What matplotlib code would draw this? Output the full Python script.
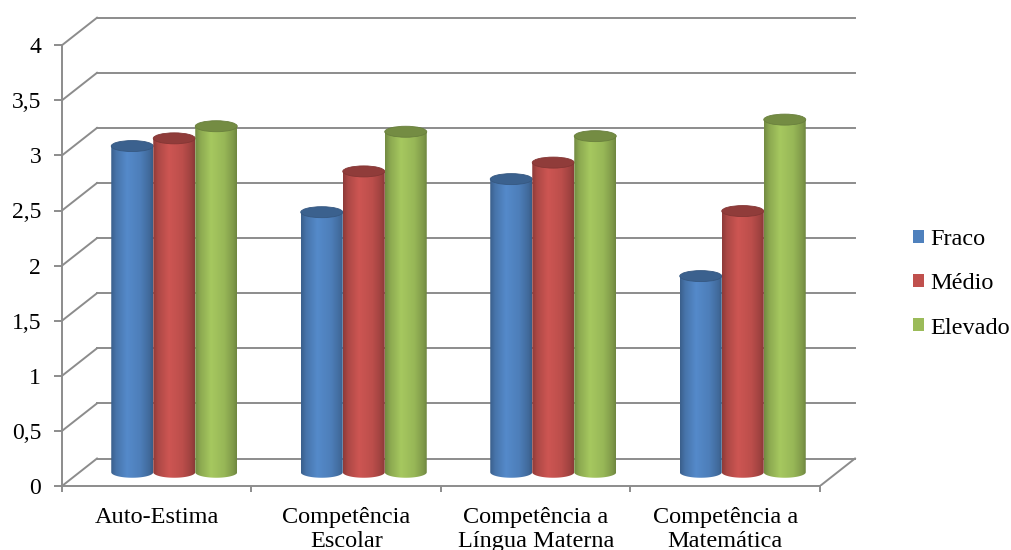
import numpy as np
import matplotlib
matplotlib.use("Agg")
import matplotlib.pyplot as plt
from matplotlib.patches import Polygon, Ellipse, Patch

plt.rcParams['font.family'] = ['Liberation Serif', 'DejaVu Serif']

# Dados
categorias = ["Auto-Estima", "Competência\nEscolar",
              "Competência a\nLíngua Materna", "Competência a\nMatemática"]
series = ["Fraco", "Médio", "Elevado"]
fraco = [2.96, 2.36, 2.66, 1.78]
medio = [3.03, 2.73, 2.81, 2.37]
elevado = [3.14, 3.09, 3.05, 3.20]
y_ticks = [0, 0.5, 1, 1.5, 2, 2.5, 3, 3.5, 4]
y_labels = ["0", "0,5", "1", "1,5", "2", "2,5", "3", "3,5", "4"]

cores = ["#4F81BD", "#C0504D", "#9BBB59"]
grid_cor = "#8C8C8C"

# Geometria do "3D" (pixels -> unidades de dados)
PX_X = 189.5   # px por categoria
PX_Y = 110.2   # px por unidade
DX = 35 / PX_X
DY = 27.5 / PX_Y
EH = 11 / PX_Y      # altura da elipse do topo
LARG = 42 / PX_X    # largura de cada cilindro

fig = plt.figure(figsize=(10.12, 5.5), dpi=100)
ax = fig.add_axes([62 / 1012, 64 / 550, 808 / 1012, 481 / 550])
xmax = 808 / PX_X
ymax = 481 / PX_Y

# Parede de fundo e parede lateral
for v in y_ticks:
    ax.plot([DX, len(categorias) + DX], [v + DY, v + DY], color=grid_cor, lw=1.4, zorder=1)
    ax.plot([0, DX], [v, v + DY], color=grid_cor, lw=1.4, zorder=1)
# Chão: aresta direita
ax.plot([len(categorias), len(categorias) + DX], [0, DY], color=grid_cor, lw=1.4, zorder=1)


def cor_gradiente(hexcor):
    base = np.array(matplotlib.colors.to_rgb(hexcor))
    t = np.linspace(0, 1, 80)
    f = np.interp(t, [0, 0.12, 0.38, 0.7, 0.92, 1], [0.74, 0.9, 1.07, 0.98, 0.82, 0.72])
    img = np.clip(base[None, :] * f[:, None], 0, 1)
    return img[None, :, :]


def cilindro(xc, h, base, cor, z):
    x0, x1 = xc - LARG / 2, xc + LARG / 2
    y1 = base + h
    t = np.linspace(np.pi, 2 * np.pi, 50)
    bx = xc + LARG / 2 * np.cos(t)
    by = base + EH / 2 * np.sin(t)
    verts = [(x0, y1)] + list(zip(bx, by)) + [(x1, y1)]
    corpo = Polygon(verts, closed=True, facecolor='none', edgecolor='none', zorder=z)
    ax.add_patch(corpo)
    im = ax.imshow(cor_gradiente(cor), extent=[x0, x1, base - EH / 2, y1],
                   aspect='auto', interpolation='bilinear', zorder=z)
    im.set_clip_path(corpo)
    escuro = np.array(matplotlib.colors.to_rgb(cor)) * 0.75
    topo = Ellipse((xc, y1), LARG, EH, facecolor=escuro,
                   edgecolor=np.array(matplotlib.colors.to_rgb(cor)) * 0.68, lw=0.6, zorder=z + 0.1)
    ax.add_patch(topo)


valores = [fraco, medio, elevado]
for i in range(len(categorias)):
    centro = i + 0.5 + DX / 2
    for j, vals in enumerate(valores):
        xc = centro + (j - 1) * LARG
        cilindro(xc, vals[i], DY / 2, cores[j], 3 + j)

ax.set_xlim(0, xmax)
ax.set_ylim(0, ymax)

# Eixos
for s in ['top', 'right']:
    ax.spines[s].set_visible(False)
ax.spines['left'].set_bounds(0, 4)
ax.spines['bottom'].set_bounds(0, len(categorias))
for s in ['left', 'bottom']:
    ax.spines[s].set_color(grid_cor)
    ax.spines[s].set_linewidth(1.4)

ax.set_yticks(y_ticks, y_labels)
ax.tick_params(axis='y', length=6, width=1.4, color=grid_cor, pad=9, labelsize=17)
ax.set_xticks(range(len(categorias) + 1), [""] * (len(categorias) + 1))
ax.tick_params(axis='x', which='major', length=4.5, width=1.4, color=grid_cor)
ax.set_xticks(np.arange(len(categorias)) + 0.5, categorias, minor=True)
ax.tick_params(axis='x', which='minor', length=0, pad=15, labelsize=17.5)
for lab in ax.get_xticklabels(minor=True):
    lab.set_linespacing(1.2)

# Legenda
handles = [Patch(facecolor=c, edgecolor='none') for c in cores]
fig.legend(handles, series, loc='center left', bbox_to_anchor=(913 / 1012, 266 / 550),
           frameon=False, fontsize=17.5, handlelength=0.45, handleheight=0.45,
           handletextpad=0.25, labelspacing=0.95, borderaxespad=0, borderpad=0)

fig.savefig("out.png", dpi=100)
